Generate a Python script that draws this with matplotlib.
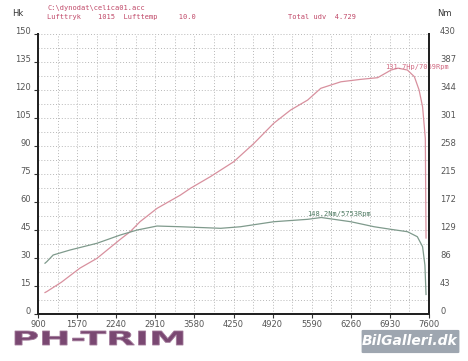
import matplotlib.pyplot as plt
from matplotlib.textpath import TextPath
from matplotlib.patches import PathPatch, FancyBboxPatch
from matplotlib.font_manager import FontProperties
from matplotlib.transforms import Affine2D, IdentityTransform, ScaledTranslation

# power curve (Hk, left axis)
rpm_hp = [1020, 1050, 1300, 1620, 1910, 2310, 2480, 2650, 2940, 3340, 3510, 3855, 4255,
          4600, 4940, 5230, 5520, 5745, 6090, 6430, 6720, 6950, 7069, 7230, 7350, 7430,
          7490, 7537, 7549]
hp = [11.5, 12.0, 17.0, 24.6, 29.8, 40.0, 44.1, 49.5, 56.6, 63.7, 67.3, 73.6, 81.6,
      91.4, 102.2, 109.3, 114.6, 120.9, 124.4, 125.7, 126.6, 130.7, 131.7, 130.7, 127.1,
      120.0, 111.0, 94.0, 40.7]

# torque curve (Nm, right axis)
rpm_nm = [1020, 1050, 1160, 1450, 1910, 2310, 2600, 2940, 3340, 4030, 4370, 4940,
          5520, 5753, 6260, 6660, 6950, 7230, 7400, 7490, 7530, 7549]
nm = [78.0, 80.3, 90.6, 98.3, 108.6, 121.3, 129.0, 135.1, 134.0, 131.6, 134.0, 141.7,
      145.4, 148.2, 141.7, 134.0, 130.0, 126.4, 118.7, 103.4, 75.0, 30.0]

x_ticks = [900, 1570, 2240, 2910, 3580, 4250, 4920, 5590, 6260, 6930, 7600]
hk_ticks = list(range(0, 151, 15))
nm_ticks = list(range(0, 431, 43))

pink = '#d8909e'
green = '#7f9a8c'
gray_txt = '#555555'

fig = plt.figure(figsize=(4.68, 3.61), dpi=100)
fig.patch.set_facecolor('white')
ax = fig.add_axes([38/468, 1 - 314/361, (429-38)/468, (314-34)/361])
ax2 = ax.twinx()

ax.plot(rpm_hp, hp, color=pink, lw=0.9)
ax2.plot(rpm_nm, nm, color=green, lw=0.9)

ax.set_xlim(900, 7600)
ax.set_ylim(0, 150)
ax2.set_ylim(0, 430)

ax.set_xticks(x_ticks)
ax.set_xticks([t + 335 for t in x_ticks[:-1]], minor=True)
ax.set_yticks(hk_ticks)
ax.set_yticks([t + 7.5 for t in hk_ticks[:-1]], minor=True)
ax2.set_yticks(nm_ticks)

ax.grid(True, which='both', color='#b8b8b8', linestyle=(0, (1, 2)), lw=0.7)
ax.tick_params(which='major', length=3, width=0.8, color='#333333',
               labelsize=6, labelcolor=gray_txt, pad=2)
ax.tick_params(which='minor', length=0)
ax.tick_params(axis='x', pad=1)
ax2.tick_params(length=0, labelsize=6, labelcolor=gray_txt, pad=8)

# y labels sit a little above their grid lines, as in the reference
up = ScaledTranslation(0, 4/100, fig.dpi_scale_trans)
for lab in ax.get_yticklabels() + ax2.get_yticklabels():
    lab.set_transform(lab.get_transform() + up)

for a in (ax, ax2):
    a.spines['top'].set_visible(False)
    for s in ('left', 'right', 'bottom'):
        a.spines[s].set_linewidth(1.4)
        a.spines[s].set_color('#222222')

ax.text(6850, 132.5, '131.7Hp/7069Rpm', color='#d06880', fontsize=5,
        family='DejaVu Sans Mono', ha='left', va='center', clip_on=False)
ax.text(6050, 53.5, '148.2Nm/5753Rpm', color='#4f7a62', fontsize=5,
        family='DejaVu Sans Mono', ha='center', va='center')

# header
fig.text(12/468, 1 - 14/361, 'Hk', fontsize=6, color='#333333', va='center')
fig.text(437/468, 1 - 14/361, 'Nm', fontsize=6, color='#333333', va='center')
fig.text(47/468, 1 - 8/361, 'C:\\dynodat\\celica01.acc', fontsize=5,
         family='DejaVu Sans Mono', color='#c04868', va='center')
fig.text(47/468, 1 - 17/361, 'Lufttryk    1015  Lufttemp     10.0', fontsize=5,
         family='DejaVu Sans Mono', color='#c04868', va='center')
fig.text(288/468, 1 - 17/361, 'Total udv  4.729', fontsize=5,
         family='DejaVu Sans Mono', color='#c04868', va='center')

# PH-TRIM logo stretched to the reference size
tp = TextPath((0, 0), 'PH-TRIM', size=1,
              prop=FontProperties(family='DejaVu Sans', weight='bold'))
ext = tp.get_extents()
w, h = 168, 14
tr = (Affine2D().translate(-ext.x0, -ext.y0)
      .scale(w / ext.width, h / ext.height)
      .translate(15, 361 - 345))
fig.add_artist(PathPatch(tp, transform=tr + IdentityTransform(),
                         facecolor='#7a4872', edgecolor='#a27a9a', lw=0.6))

# watermark
fig.add_artist(FancyBboxPatch((363/468, 1 - 352/361), 95/468, 21/361,
                              boxstyle='round,pad=0.003', transform=fig.transFigure,
                              facecolor='#9ea6b0', edgecolor='none'))
fig.text(410/468, 1 - 341/361, 'BilGalleri.dk', fontsize=10, color='white',
         weight='bold', style='italic', ha='center', va='center')

fig.savefig('out.png', dpi=100)
